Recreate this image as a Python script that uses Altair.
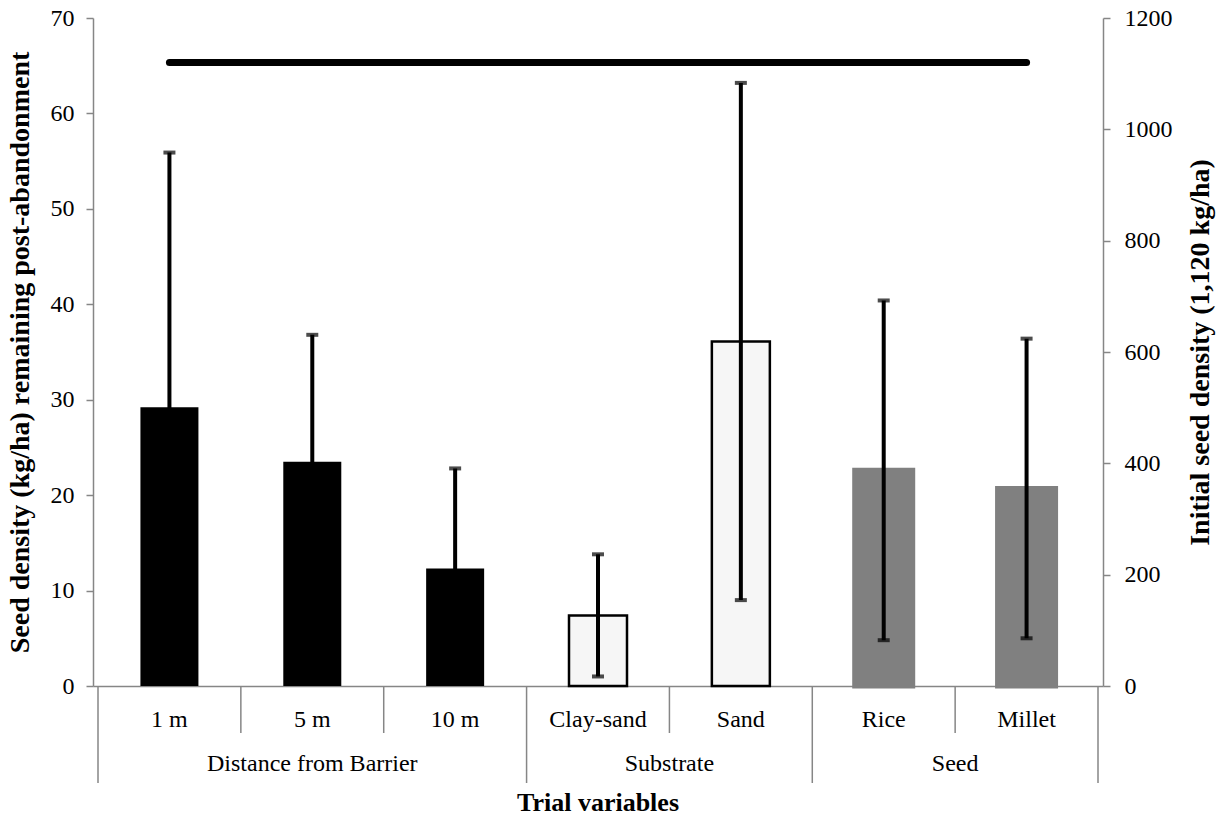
import altair as alt
import pandas as pd

# Trial categories and their grouping
categories = ["1 m", "5 m", "10 m", "Clay-sand", "Sand", "Rice", "Millet"]
groups = ["Distance from Barrier", "Distance from Barrier", "Distance from Barrier",
          "Substrate", "Substrate", "Seed", "Seed"]
group_names = ["Distance from Barrier", "Substrate", "Seed"]

# Mean seed density remaining (kg/ha) and its error half-width
means = [29.2, 23.5, 12.3, 7.4, 36.1, 22.6, 20.7]
errors = [26.7, 13.3, 10.5, 6.4, 27.1, 17.8, 15.7]

# Initial seed density (right axis, kg/ha)
initial = [1120, 1120, 1120, 1120, 1120, 1120, 1120]

SERIF = "Times New Roman, Liberation Serif, serif"
AXIS_GREY = "#868686"
W, H = 1010, 668
LABEL_SIZE = 24
TITLE_SIZE = 26
SIDE_TITLE_SIZE = 28

n = len(categories)
df = pd.DataFrame({
    "category": categories,
    "group": groups,
    "mean": means,
    "err": errors,
    "initial": initial,
})
df["pos"] = [i + 0.5 for i in range(n)]
df["lo"] = df["mean"] - df["err"]
df["hi"] = df["mean"] + df["err"]

# group label positions and boundaries
gstart = {}
gend = {}
for i, g in enumerate(groups):
    gstart.setdefault(g, i)
    gend[g] = i + 1
gdf = pd.DataFrame({
    "group": group_names,
    "pos": [(gstart[g] + gend[g]) / 2 for g in group_names],
})
group_edges = sorted(set([gstart[g] for g in group_names] + [gend[g] for g in group_names]))
edges_df = pd.DataFrame({"edge": list(range(n + 1))})
edges_df["major"] = edges_df["edge"].isin(group_edges)

xscale = alt.Scale(domain=[0, n], nice=False, zero=False)
x_base = alt.X("pos:Q", scale=xscale,
               axis=alt.Axis(labels=False, ticks=False, title=None, grid=False,
                             domainColor=AXIS_GREY, domainWidth=1.5))
yscale = alt.Scale(domain=[0, 70], nice=False)
left_axis = alt.Axis(
    values=list(range(0, 71, 10)), grid=False,
    domainColor=AXIS_GREY, domainWidth=1.5, tickColor=AXIS_GREY, tickWidth=1.5, tickSize=7,
    labelFont=SERIF, labelFontSize=LABEL_SIZE, labelColor="black", labelPadding=12,
    title="Seed density (kg/ha) remaining post-abandonment",
    titleFont=SERIF, titleFontSize=SIDE_TITLE_SIZE, titleFontWeight="bold", titleColor="black",
    titlePadding=16,
)

base = alt.Chart(df)

bars = base.mark_bar(size=58).encode(
    x=x_base,
    y=alt.Y("mean:Q", scale=yscale, axis=left_axis),
    fill=alt.Fill("group:N", scale=alt.Scale(domain=group_names,
                                             range=["#000000", "#f6f6f6", "#808080"]), legend=None),
    stroke=alt.Stroke("group:N", scale=alt.Scale(domain=group_names,
                                                 range=["#000000", "#000000", "#808080"]), legend=None),
    strokeWidth=alt.StrokeWidth("group:N", scale=alt.Scale(domain=group_names, range=[0, 5, 0]),
                                legend=None),
)

err_rule = base.mark_rule(color="black", strokeWidth=4).encode(
    x=alt.X("pos:Q", scale=xscale),
    y=alt.Y("lo:Q", scale=yscale),
    y2="hi:Q",
)
cap_hi = base.mark_tick(color="black", orient="horizontal", size=12, thickness=4).encode(
    x=alt.X("pos:Q", scale=xscale),
    y=alt.Y("hi:Q", scale=yscale),
)
cap_lo = base.mark_tick(color="black", orient="horizontal", size=12, thickness=4).encode(
    x=alt.X("pos:Q", scale=xscale),
    y=alt.Y("lo:Q", scale=yscale),
)

left = alt.layer(bars, err_rule, cap_hi, cap_lo)

right_axis = alt.Axis(
    orient="right", values=list(range(0, 1201, 200)), format="d", grid=False,
    domainColor=AXIS_GREY, domainWidth=1.5, tickColor=AXIS_GREY, tickWidth=1.5, tickSize=7,
    labelFont=SERIF, labelFontSize=LABEL_SIZE, labelColor="black", labelPadding=14,
    title="Initial seed density (1,120 kg/ha)",
    titleFont=SERIF, titleFontSize=SIDE_TITLE_SIZE, titleFontWeight="bold", titleColor="black",
    titlePadding=42, titleAngle=270,
)
initial_line = base.mark_line(color="black", strokeWidth=7, strokeCap="round").encode(
    x=alt.X("pos:Q", scale=xscale),
    y=alt.Y("initial:Q", scale=alt.Scale(domain=[0, 1200], nice=False), axis=right_axis),
)

# two-level category axis drawn below the plot
cat_labels = base.mark_text(font=SERIF, fontSize=LABEL_SIZE, baseline="middle", color="black").encode(
    x=alt.X("pos:Q", scale=xscale),
    y=alt.value(H + 34),
    text="category:N",
)
grp_labels = alt.Chart(gdf).mark_text(font=SERIF, fontSize=LABEL_SIZE, baseline="middle",
                                      color="black").encode(
    x=alt.X("pos:Q", scale=xscale),
    y=alt.value(H + 78),
    text="group:N",
)
minor_div = alt.Chart(edges_df).transform_filter("!datum.major").mark_rule(
    color=AXIS_GREY, strokeWidth=1.5).encode(
    x=alt.X("edge:Q", scale=xscale),
    y=alt.value(H),
    y2=alt.value(H + 47),
)
major_div = alt.Chart(edges_df).transform_filter("datum.major").mark_rule(
    color=AXIS_GREY, strokeWidth=1.5).encode(
    x=alt.X("edge:Q", scale=xscale),
    y=alt.value(H),
    y2=alt.value(H + 97),
)
x_title = alt.Chart(pd.DataFrame({"t": ["Trial variables"], "pos": [n / 2]})).mark_text(
    font=SERIF, fontSize=TITLE_SIZE, fontWeight="bold", baseline="middle", color="black").encode(
    x=alt.X("pos:Q", scale=xscale),
    y=alt.value(H + 117),
    text="t:N",
)

chart = alt.layer(
    left, initial_line, minor_div, major_div, cat_labels, grp_labels, x_title
).resolve_scale(y="independent").properties(
    width=W, height=H,
    autosize=alt.AutoSizeParams(type="none"),
    padding={"left": 93, "top": 18, "right": 123, "bottom": 134},
    background="white",
).configure_view(stroke=None)

chart.save("out.html", embed_options={"renderer": "svg", "actions": False})
